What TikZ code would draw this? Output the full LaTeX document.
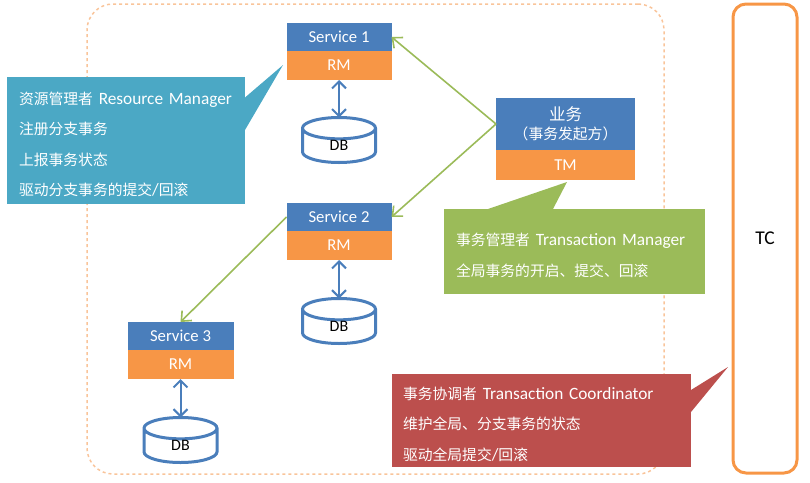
\documentclass[tikz,border=0pt]{standalone}
\usepackage{fontspec}
\setmainfont{Carlito}
\newfontfamily\cjk{Noto Sans CJK SC}
\usetikzlibrary{arrows.meta,shapes.geometric}
\definecolor{svcblue}{HTML}{4A7EBB}
\definecolor{rmorange}{HTML}{F79646}
\definecolor{noteteal}{HTML}{4BA8C5}
\definecolor{notegreen}{HTML}{9BBB59}
\definecolor{notered}{HTML}{BC4F4D}
\definecolor{framedash}{HTML}{F9C49A}
\newcommand{\zh}[1]{{\cjk\fontsize{14.8}{30.5}\selectfont #1}}
\newcommand{\notestrut}{\rule{0pt}{20pt}}
\newcommand{\dblabel}{\raisebox{-4.5pt}[0pt][0pt]{DB}}
\tikzset{
  svc/.style={rectangle, fill=svcblue, text=white, outer sep=0pt, inner sep=0pt, font=\fontsize{16.7}{18}\selectfont},
  rm/.style={rectangle, fill=rmorange, text=white, outer sep=0pt, inner sep=0pt, font=\fontsize{16.7}{18}\selectfont},
  db/.style={cylinder, shape border rotate=90, aspect=1.15, draw=svcblue, line width=3pt, fill=white, outer sep=0pt, inner sep=0pt,
    minimum width=73pt, minimum height=45pt, anchor=north, font=\fontsize{16}{18}\selectfont},
  note/.style={rectangle, text=white, align=left, anchor=north west, outer sep=0pt, inner ysep=0pt, inner xsep=12pt},
  dbarrow/.style={{Straight Barb[length=7pt,width=14pt]}-{Straight Barb[length=7pt,width=14pt]}, draw=svcblue, line width=2pt},
  call/.style={-{Straight Barb[length=8pt,width=14pt]}, draw=notegreen, line width=1.6pt}
}
\begin{document}
\begin{tikzpicture}[x=1pt, y=-1pt]
  \useasboundingbox (0,0) rectangle (810,482);

  % Frames
  \node[draw=framedash, dashed, line width=1.5pt, rounded corners=26pt, minimum width=577pt, minimum height=470pt, outer sep=0pt] (frame) at (375.5,239) {};
  \node[draw=rmorange, line width=3pt, rounded corners=13pt, minimum width=64pt, minimum height=469pt, outer sep=0pt, font=\fontsize{19.5}{20}\selectfont] (tc) at (765,238.5) {\raisebox{-3pt}{TC}};

  % Services
  \node[svc, minimum width=105pt, minimum height=28pt] (svc1) at (339,37) {Service 1};
  \node[rm, minimum width=105pt, minimum height=29pt] (rm1) at (339,65.5) {RM};
  \node[db] (db1) at (339,117.5) {\dblabel};
  \node[svc, minimum width=105pt, minimum height=28pt] (svc2) at (339,217) {Service 2};
  \node[rm, minimum width=105pt, minimum height=29pt] (rm2) at (339,245.5) {RM};
  \node[db] (db2) at (339,298.5) {\dblabel};
  \node[svc, minimum width=106pt, minimum height=28pt] (svc3) at (180.5,336) {Service 3};
  \node[rm, minimum width=106pt, minimum height=29pt] (rm3) at (180.5,364.5) {RM};
  \node[db] (db3) at (180.5,417.5) {\dblabel};
  \node[svc, minimum width=139pt, minimum height=52pt, align=center] (biz) at (565.5,124) {{\cjk\fontsize{16.5}{19}\selectfont 业务}\\[1pt]{\cjk\fontsize{14.8}{17}\selectfont （事务发起方）}};
  \node[rm, minimum width=139pt, minimum height=30pt] (tm) at (565.5,165) {TM};

  % Edges
  \draw[dbarrow] (rm1.south) -- (db1.north);
  \draw[dbarrow] (rm2.south) -- (db2.north);
  \draw[dbarrow] (rm3.south) -- (db3.north);
  \draw[call] (biz.west) -- (svc1.east);
  \draw[call] (biz.west) -- (svc2.east);
  \draw[call] (svc2.west) -- (svc3.north);

  % Notes
  \node[note, fill=noteteal, text width=214pt, minimum height=127pt, font=\fontsize{17.3}{30.5}\selectfont] (rmnote) at (7,77) {\notestrut\zh{资源管理者} Resource Manager\\\zh{注册分支事务}\\\zh{上报事务状态}\\\zh{驱动分支事务的提交}/\zh{回滚}};
  \fill[noteteal] ([yshift=-20.5pt]rmnote.north east) -- (283,65) -- ([yshift=-53pt]rmnote.north east) -- cycle;
  \node[note, fill=notegreen, text width=237pt, minimum height=85pt, font=\fontsize{17.3}{31}\selectfont] (tmnote) at (444,209) {\notestrut\zh{事务管理者} Transaction Manager\\\zh{全局事务的开启、提交、回滚}};
  \fill[notegreen] ([xshift=44pt]tmnote.north west) -- (567,182) -- ([xshift=109pt]tmnote.north west) -- cycle;
  \node[note, fill=notered, text width=277pt, minimum height=93pt, inner xsep=11pt, font=\fontsize{17.3}{30.5}\selectfont] (tcnote) at (392,374) {\notestrut\zh{事务协调者} Transaction Coordinator\\\zh{维护全局、分支事务的状态}\\\zh{驱动全局提交}/\zh{回滚}};
  \fill[notered] ([yshift=-16pt]tcnote.north east) -- (728,367) -- ([yshift=-38pt]tcnote.north east) -- cycle;
\end{tikzpicture}
\end{document}
